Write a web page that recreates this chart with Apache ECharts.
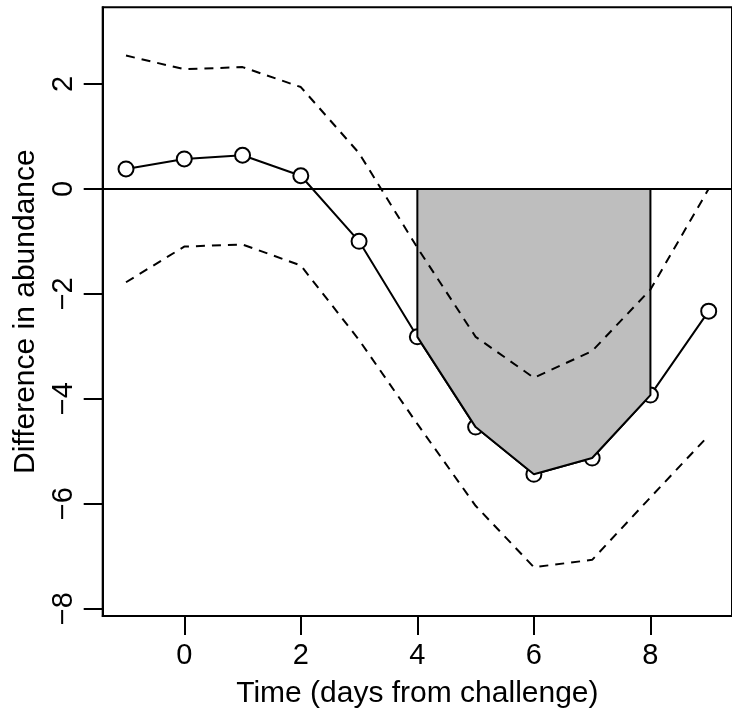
<!DOCTYPE html>
<html>
<head>
<meta charset="utf-8">
<script src="https://cdn.jsdelivr.net/npm/echarts@6/dist/echarts.min.js"></script>
<style>
  html, body { margin: 0; padding: 0; background: #fff; }
  #chart { width: 732px; height: 714px; }
</style>
</head>
<body>
<div id="chart"></div>
<script>
// Days relative to challenge and the estimated difference with its confidence band
const days = [-1, 0, 1, 2, 3, 4, 5, 6, 7, 8, 9];
const diff = [0.38, 0.57, 0.64, 0.25, -1.00, -2.82, -4.54, -5.44, -5.13, -3.93, -2.33];
const upper = [2.54, 2.28, 2.32, 1.94, 0.68, -1.12, -2.82, -3.60, -3.09, -1.92, 0.00];
const lower = [-1.78, -1.10, -1.06, -1.46, -2.88, -4.48, -6.04, -7.21, -7.07, -5.88, -4.70];

// Window of days that is shaded
const shadeFrom = 4;
const shadeTo = 8;

// Axis ticks
const xTicks = [0, 2, 4, 6, 8];
const yTicks = [-8, -6, -4, -2, 0, 2];

const FONT = '"Liberation Sans", Arial, Helvetica, sans-serif';
const pairs = arr => days.map((d, i) => [d, arr[i]]);

// Region between zero and the estimate inside the shaded window
const shadeData = [[shadeFrom, 0]]
  .concat(days.map((d, i) => [d, diff[i]]).filter(p => p[0] >= shadeFrom && p[0] <= shadeTo))
  .concat([[shadeTo, 0]]);

const minus = v => String(v).replace('-', '\u2212');

const chart = echarts.init(document.getElementById('chart'), null, { renderer: 'canvas' });
chart.setOption({
  animation: false,
  backgroundColor: '#ffffff',
  grid: {
    left: 102.7, top: 7.3, width: 630.2, height: 610,
    show: true, borderColor: '#000', borderWidth: 2, backgroundColor: 'transparent'
  },
  xAxis: {
    type: 'value', min: -1.4, max: 9.4,
    name: 'Time (days from challenge)', nameLocation: 'middle', nameGap: 63,
    nameTextStyle: { fontFamily: FONT, fontSize: 30, color: '#000' },
    axisLine: { show: true, onZero: false, lineStyle: { color: '#000', width: 2 } },
    axisTick: { show: true, length: 19, customValues: xTicks, lineStyle: { color: '#000', width: 2 } },
    axisLabel: { customValues: xTicks, margin: 25, fontFamily: FONT, fontSize: 29, color: '#000', formatter: minus },
    splitLine: { show: false }
  },
  yAxis: {
    type: 'value', min: -8.14, max: 3.46,
    name: 'Difference in abundance', nameLocation: 'middle', nameGap: 62,
    nameTextStyle: { fontFamily: FONT, fontSize: 30, color: '#000' },
    axisLine: { show: true, onZero: false, lineStyle: { color: '#000', width: 2 } },
    axisTick: { show: true, length: 19, customValues: yTicks, lineStyle: { color: '#000', width: 2 } },
    axisLabel: { customValues: yTicks, rotate: 90, margin: 24, fontFamily: FONT, fontSize: 29, color: '#000', formatter: minus },
    splitLine: { show: false }
  },
  series: [
    {
      name: 'estimate', type: 'line', z: 2,
      data: pairs(diff),
      symbol: 'emptyCircle', symbolSize: 15, showSymbol: true,
      lineStyle: { color: '#000', width: 2 },
      itemStyle: { color: '#000', borderColor: '#000', borderWidth: 2 }
    },
    {
      name: 'shaded', type: 'line', z: 3,
      data: shadeData,
      symbol: 'none',
      lineStyle: { color: '#000', width: 2 },
      areaStyle: { color: '#bebebe', opacity: 1, origin: 0 },
      markLine: {
        silent: true, symbol: 'none', label: { show: false },
        lineStyle: { type: 'solid', color: '#000', width: 1.8 },
        data: [{ yAxis: 0 }]
      }
    },
    {
      name: 'upper', type: 'line', z: 4,
      data: pairs(upper), symbol: 'none',
      lineStyle: { color: '#000', width: 2, type: [9, 7] }
    },
    {
      name: 'lower', type: 'line', z: 4,
      data: pairs(lower), symbol: 'none',
      lineStyle: { color: '#000', width: 2, type: [9, 7] }
    }
  ]
});
</script>
</body>
</html>
